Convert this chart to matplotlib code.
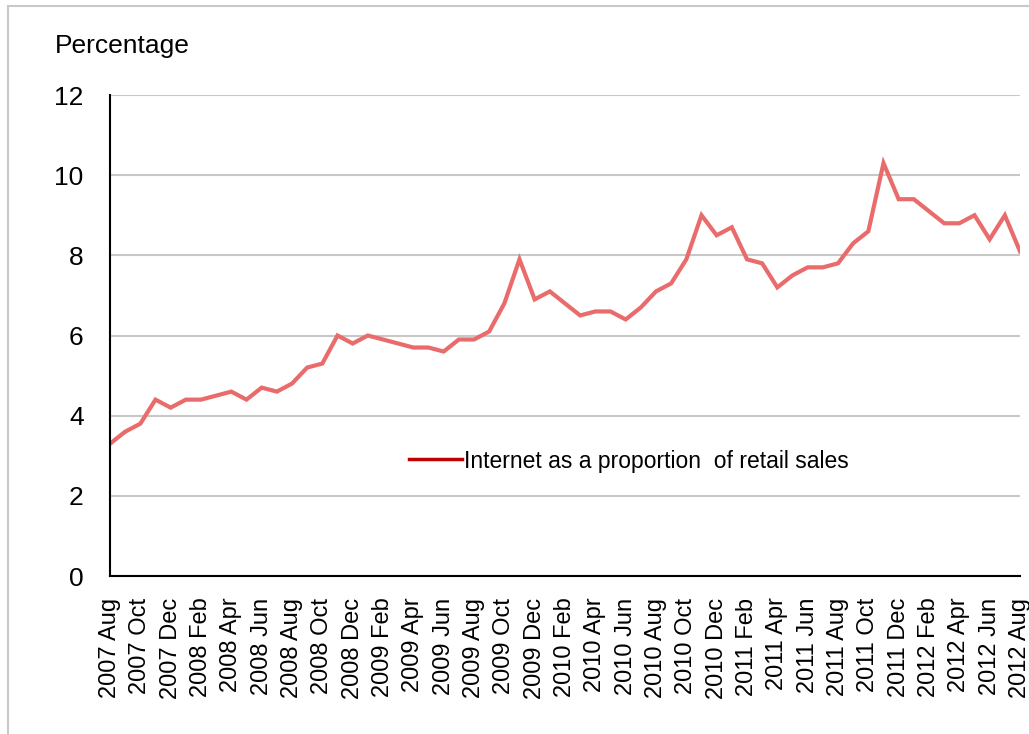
import matplotlib.pyplot as plt
from matplotlib.lines import Line2D
from matplotlib.patches import Rectangle
import numpy as np

# monthly data, 2007 Aug .. 2012 Aug
months = ['Jan', 'Feb', 'Mar', 'Apr', 'May', 'Jun',
          'Jul', 'Aug', 'Sep', 'Oct', 'Nov', 'Dec']
labels = []
for k in range(61):
    m = 7 + k
    labels.append('%d %s' % (2007 + m // 12, months[m % 12]))

internet_share = [3.3, 3.6, 3.8, 4.4, 4.2, 4.4, 4.4, 4.5, 4.6, 4.4,
                  4.7, 4.6, 4.8, 5.2, 5.3, 6.0, 5.8, 6.0, 5.9, 5.8,
                  5.7, 5.7, 5.6, 5.9, 5.9, 6.1, 6.8, 7.9, 6.9, 7.1,
                  6.8, 6.5, 6.6, 6.6, 6.4, 6.7, 7.1, 7.3, 7.9, 9.0,
                  8.5, 8.7, 7.9, 7.8, 7.2, 7.5, 7.7, 7.7, 7.8, 8.3,
                  8.6, 10.3, 9.4, 9.4, 9.1, 8.8, 8.8, 9.0, 8.4, 9.0,
                  8.1]
yticks = [0, 2, 4, 6, 8, 10, 12]

W, H = 1029, 734
fig = plt.figure(figsize=(W / 100, H / 100), dpi=100)
plt.rcParams['font.family'] = ['Liberation Sans', 'DejaVu Sans']

# outer chart frame (only top and left edges fall inside the picture)
fig.patches.append(Rectangle((8 / W, -0.2), 1.2, 1.2 - 6 / H, transform=fig.transFigure,
                             fill=False, edgecolor='#c8c8c8', linewidth=1.5))

ax = fig.add_axes([110 / W, 1 - 576 / H, 910 / W, 481 / H])
x = np.arange(len(internet_share))
ax.plot(x, internet_share, color='#e96b6b', linewidth=3.0, solid_joinstyle='miter')

ax.set_xlim(0, len(internet_share) - 1)
ax.set_ylim(0, 12)
ax.set_yticks(yticks)
ax.set_yticklabels([str(v) for v in yticks], fontsize=19)
ax.set_xticks(x[::2])
ax.set_xticklabels(labels[::2], rotation=90, fontsize=17)
ax.tick_params(axis='both', length=0)
ax.tick_params(axis='y', pad=19)
ax.tick_params(axis='x', pad=15.5)
ax.grid(axis='y', color='#c8c8c8', linewidth=1.5)
ax.set_axisbelow(True)
for s in ['top', 'right']:
    ax.spines[s].set_visible(False)
ax.spines['left'].set_linewidth(1.5)
ax.spines['bottom'].set_linewidth(1.5)

fig.text(55 / W, 1 - 46 / H, 'Percentage', fontsize=19, va='center', ha='left')

handle = Line2D([], [], color='#c00000', linewidth=2.5)
ax.legend([handle], ['Internet as a proportion  of retail sales'], frameon=False,
          loc='center left', bbox_to_anchor=(290 / 910, (576 - 461) / 481),
          fontsize=16.5, handlelength=2.3, handletextpad=0.1, borderaxespad=0)

fig.savefig('out.png', dpi=100)
